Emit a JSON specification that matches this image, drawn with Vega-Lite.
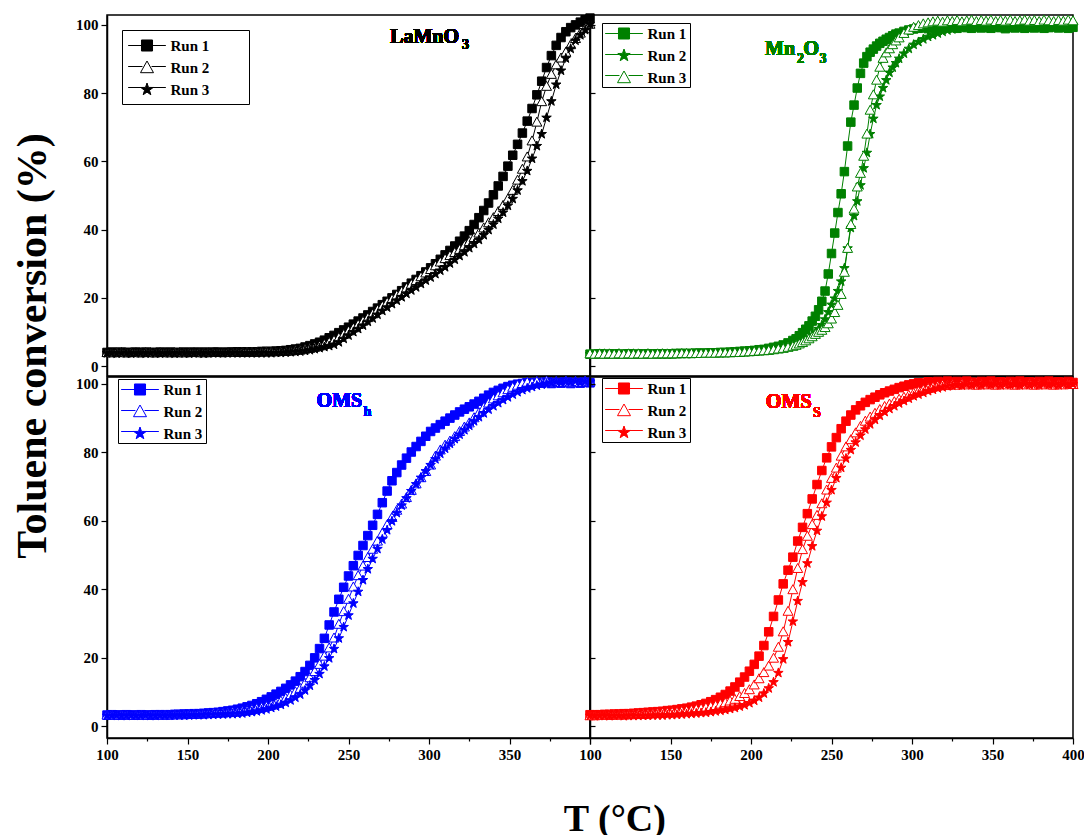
{
  "$schema": "https://vega.github.io/schema/vega-lite/v6.json",
  "background": "white",
  "padding": {"left": 11, "top": 11, "right": 2, "bottom": 2},
  "title": {"text": "Toluene conversion (%)", "orient": "left", "anchor": "middle", "font": "Liberation Serif", "fontSize": 42, "fontWeight": "bold", "color": "black", "offset": 20, "dx": 79},
  "spacing": -4,
  "resolve": {"scale": {"x": "independent", "y": "independent", "shape": "independent", "fill": "independent", "stroke": "independent"}, "legend": {"shape": "independent", "fill": "independent", "stroke": "independent"}},
  "config": {
    "view": {"stroke": "black", "strokeWidth": 1.5},
    "axis": {"grid": false, "domainColor": "black", "domainWidth": 1.5, "tickColor": "black", "tickWidth": 1.2, "labelFont": "Liberation Serif", "labelFontWeight": "bold", "labelFontSize": 15, "labelColor": "black"},
    "legend": {"strokeColor": "black", "strokeWidth": 1, "fillColor": "transparent", "labelFont": "Liberation Serif", "labelFontWeight": "bold", "labelFontSize": 15, "labelColor": "black", "symbolStrokeWidth": 1, "symbolSize": 169, "rowPadding": 5, "labelLimit": 300},
    "text": {"font": "Liberation Serif", "fontWeight": "bold"}
  },
  "datasets": {
    "la": [
      {"r":1,"t":100,"v":4.0},{"r":1,"t":103,"v":4.1},{"r":1,"t":106,"v":4.0},{"r":1,"t":109,"v":4.1},{"r":1,"t":112,"v":4.0},{"r":1,"t":115,"v":4.0},{"r":1,"t":118,"v":4.1},{"r":1,"t":121,"v":4.0},{"r":1,"t":124,"v":4.1},{"r":1,"t":127,"v":4.0},{"r":1,"t":130,"v":4.0},{"r":1,"t":133,"v":4.1},{"r":1,"t":136,"v":4.0},{"r":1,"t":139,"v":4.1},{"r":1,"t":142,"v":4.0},{"r":1,"t":145,"v":4.0},{"r":1,"t":148,"v":4.1},{"r":1,"t":151,"v":4.0},{"r":1,"t":154,"v":4.1},{"r":1,"t":157,"v":4.0},{"r":1,"t":160,"v":4.1},{"r":1,"t":163,"v":4.0},{"r":1,"t":166,"v":4.1},{"r":1,"t":169,"v":4.1},{"r":1,"t":172,"v":4.0},{"r":1,"t":175,"v":4.1},{"r":1,"t":178,"v":4.1},{"r":1,"t":181,"v":4.2},{"r":1,"t":184,"v":4.1},{"r":1,"t":187,"v":4.2},{"r":1,"t":190,"v":4.2},{"r":1,"t":193,"v":4.2},{"r":1,"t":196,"v":4.3},{"r":1,"t":199,"v":4.3},{"r":1,"t":202,"v":4.3},{"r":1,"t":205,"v":4.4},{"r":1,"t":208,"v":4.5},{"r":1,"t":211,"v":4.6},{"r":1,"t":214,"v":4.8},{"r":1,"t":217,"v":5.0},{"r":1,"t":220,"v":5.2},{"r":1,"t":223,"v":5.6},{"r":1,"t":226,"v":6.0},{"r":1,"t":229,"v":6.5},{"r":1,"t":232,"v":7.0},{"r":1,"t":235,"v":7.6},{"r":1,"t":238,"v":8.3},{"r":1,"t":241,"v":9.0},{"r":1,"t":244,"v":9.8},{"r":1,"t":247,"v":10.6},{"r":1,"t":250,"v":11.4},{"r":1,"t":253,"v":12.3},{"r":1,"t":256,"v":13.2},{"r":1,"t":259,"v":14.1},{"r":1,"t":262,"v":15.0},{"r":1,"t":265,"v":16.0},{"r":1,"t":268,"v":17.0},{"r":1,"t":271,"v":18.0},{"r":1,"t":274,"v":19.0},{"r":1,"t":277,"v":20.0},{"r":1,"t":280,"v":21.0},{"r":1,"t":283,"v":22.1},{"r":1,"t":286,"v":23.2},{"r":1,"t":289,"v":24.3},{"r":1,"t":292,"v":25.4},{"r":1,"t":295,"v":26.5},{"r":1,"t":298,"v":27.6},{"r":1,"t":301,"v":28.8},{"r":1,"t":304,"v":30.0},{"r":1,"t":307,"v":31.3},{"r":1,"t":310,"v":32.6},{"r":1,"t":313,"v":33.9},{"r":1,"t":316,"v":35.2},{"r":1,"t":319,"v":36.6},{"r":1,"t":322,"v":38.1},{"r":1,"t":325,"v":39.7},{"r":1,"t":328,"v":41.5},{"r":1,"t":331,"v":43.5},{"r":1,"t":334,"v":45.6},{"r":1,"t":337,"v":47.8},{"r":1,"t":340,"v":50.2},{"r":1,"t":343,"v":52.8},{"r":1,"t":346,"v":55.6},{"r":1,"t":349,"v":58.6},{"r":1,"t":352,"v":61.8},{"r":1,"t":355,"v":65.0},{"r":1,"t":358,"v":68.3},{"r":1,"t":361,"v":71.8},{"r":1,"t":364,"v":75.5},{"r":1,"t":367,"v":79.5},{"r":1,"t":370,"v":83.5},{"r":1,"t":373,"v":87.5},{"r":1,"t":376,"v":91.0},{"r":1,"t":379,"v":94.0},{"r":1,"t":382,"v":96.3},{"r":1,"t":385,"v":98.0},{"r":1,"t":388,"v":99.2},{"r":1,"t":391,"v":100.0},{"r":1,"t":394,"v":100.8},{"r":1,"t":397,"v":101.5},{"r":1,"t":400,"v":102.0},
      {"r":2,"t":100,"v":4.0},{"r":2,"t":103,"v":3.9},{"r":2,"t":106,"v":4.0},{"r":2,"t":109,"v":4.0},{"r":2,"t":112,"v":3.9},{"r":2,"t":115,"v":4.0},{"r":2,"t":118,"v":4.0},{"r":2,"t":121,"v":3.9},{"r":2,"t":124,"v":4.0},{"r":2,"t":127,"v":4.0},{"r":2,"t":130,"v":3.9},{"r":2,"t":133,"v":4.0},{"r":2,"t":136,"v":4.0},{"r":2,"t":139,"v":3.9},{"r":2,"t":142,"v":4.0},{"r":2,"t":145,"v":4.0},{"r":2,"t":148,"v":3.9},{"r":2,"t":151,"v":4.0},{"r":2,"t":154,"v":4.0},{"r":2,"t":157,"v":4.0},{"r":2,"t":160,"v":3.9},{"r":2,"t":163,"v":4.0},{"r":2,"t":166,"v":4.0},{"r":2,"t":169,"v":4.0},{"r":2,"t":172,"v":4.0},{"r":2,"t":175,"v":4.0},{"r":2,"t":178,"v":4.0},{"r":2,"t":181,"v":4.0},{"r":2,"t":184,"v":4.1},{"r":2,"t":187,"v":4.1},{"r":2,"t":190,"v":4.1},{"r":2,"t":193,"v":4.1},{"r":2,"t":196,"v":4.1},{"r":2,"t":199,"v":4.2},{"r":2,"t":202,"v":4.2},{"r":2,"t":205,"v":4.2},{"r":2,"t":208,"v":4.3},{"r":2,"t":211,"v":4.3},{"r":2,"t":214,"v":4.4},{"r":2,"t":217,"v":4.6},{"r":2,"t":220,"v":4.7},{"r":2,"t":223,"v":5.0},{"r":2,"t":226,"v":5.2},{"r":2,"t":229,"v":5.5},{"r":2,"t":232,"v":5.9},{"r":2,"t":235,"v":6.4},{"r":2,"t":238,"v":7.0},{"r":2,"t":241,"v":7.6},{"r":2,"t":244,"v":8.4},{"r":2,"t":247,"v":9.3},{"r":2,"t":250,"v":10.3},{"r":2,"t":253,"v":11.2},{"r":2,"t":256,"v":12.2},{"r":2,"t":259,"v":13.2},{"r":2,"t":262,"v":14.2},{"r":2,"t":265,"v":15.3},{"r":2,"t":268,"v":16.5},{"r":2,"t":271,"v":17.6},{"r":2,"t":274,"v":18.7},{"r":2,"t":277,"v":19.7},{"r":2,"t":280,"v":20.8},{"r":2,"t":283,"v":21.9},{"r":2,"t":286,"v":22.9},{"r":2,"t":289,"v":24.0},{"r":2,"t":292,"v":25.1},{"r":2,"t":295,"v":26.2},{"r":2,"t":298,"v":27.3},{"r":2,"t":301,"v":28.3},{"r":2,"t":304,"v":29.4},{"r":2,"t":307,"v":30.5},{"r":2,"t":310,"v":31.5},{"r":2,"t":313,"v":32.4},{"r":2,"t":316,"v":33.3},{"r":2,"t":319,"v":34.2},{"r":2,"t":322,"v":35.3},{"r":2,"t":325,"v":36.5},{"r":2,"t":328,"v":37.7},{"r":2,"t":331,"v":39.0},{"r":2,"t":334,"v":40.5},{"r":2,"t":337,"v":42.0},{"r":2,"t":340,"v":43.5},{"r":2,"t":343,"v":45.3},{"r":2,"t":346,"v":47.1},{"r":2,"t":349,"v":49.0},{"r":2,"t":352,"v":51.5},{"r":2,"t":355,"v":54.5},{"r":2,"t":358,"v":57.7},{"r":2,"t":361,"v":61.3},{"r":2,"t":364,"v":66.0},{"r":2,"t":367,"v":71.5},{"r":2,"t":370,"v":77.5},{"r":2,"t":373,"v":82.0},{"r":2,"t":376,"v":85.5},{"r":2,"t":379,"v":88.3},{"r":2,"t":382,"v":90.3},{"r":2,"t":385,"v":92.0},{"r":2,"t":388,"v":94.2},{"r":2,"t":391,"v":96.0},{"r":2,"t":394,"v":97.6},{"r":2,"t":397,"v":99.0},{"r":2,"t":400,"v":100.2},
      {"r":3,"t":100,"v":3.8},{"r":3,"t":103,"v":3.8},{"r":3,"t":106,"v":3.7},{"r":3,"t":109,"v":3.8},{"r":3,"t":112,"v":3.8},{"r":3,"t":115,"v":3.7},{"r":3,"t":118,"v":3.8},{"r":3,"t":121,"v":3.8},{"r":3,"t":124,"v":3.7},{"r":3,"t":127,"v":3.8},{"r":3,"t":130,"v":3.8},{"r":3,"t":133,"v":3.7},{"r":3,"t":136,"v":3.8},{"r":3,"t":139,"v":3.8},{"r":3,"t":142,"v":3.7},{"r":3,"t":145,"v":3.8},{"r":3,"t":148,"v":3.8},{"r":3,"t":151,"v":3.7},{"r":3,"t":154,"v":3.8},{"r":3,"t":157,"v":3.8},{"r":3,"t":160,"v":3.7},{"r":3,"t":163,"v":3.8},{"r":3,"t":166,"v":3.8},{"r":3,"t":169,"v":3.8},{"r":3,"t":172,"v":3.8},{"r":3,"t":175,"v":3.8},{"r":3,"t":178,"v":3.8},{"r":3,"t":181,"v":3.8},{"r":3,"t":184,"v":3.8},{"r":3,"t":187,"v":3.8},{"r":3,"t":190,"v":3.8},{"r":3,"t":193,"v":3.8},{"r":3,"t":196,"v":3.8},{"r":3,"t":199,"v":3.8},{"r":3,"t":202,"v":3.8},{"r":3,"t":205,"v":3.9},{"r":3,"t":208,"v":3.9},{"r":3,"t":211,"v":4.0},{"r":3,"t":214,"v":4.1},{"r":3,"t":217,"v":4.2},{"r":3,"t":220,"v":4.3},{"r":3,"t":223,"v":4.5},{"r":3,"t":226,"v":4.7},{"r":3,"t":229,"v":5.0},{"r":3,"t":232,"v":5.3},{"r":3,"t":235,"v":5.6},{"r":3,"t":238,"v":5.9},{"r":3,"t":241,"v":6.3},{"r":3,"t":244,"v":7.0},{"r":3,"t":247,"v":8.0},{"r":3,"t":250,"v":9.0},{"r":3,"t":253,"v":10.0},{"r":3,"t":256,"v":10.9},{"r":3,"t":259,"v":11.9},{"r":3,"t":262,"v":13.0},{"r":3,"t":265,"v":14.0},{"r":3,"t":268,"v":15.1},{"r":3,"t":271,"v":16.2},{"r":3,"t":274,"v":17.2},{"r":3,"t":277,"v":18.2},{"r":3,"t":280,"v":19.2},{"r":3,"t":283,"v":20.2},{"r":3,"t":286,"v":21.2},{"r":3,"t":289,"v":22.2},{"r":3,"t":292,"v":23.1},{"r":3,"t":295,"v":24.1},{"r":3,"t":298,"v":25.1},{"r":3,"t":301,"v":26.0},{"r":3,"t":304,"v":27.0},{"r":3,"t":307,"v":28.0},{"r":3,"t":310,"v":29.0},{"r":3,"t":313,"v":30.1},{"r":3,"t":316,"v":31.2},{"r":3,"t":319,"v":32.3},{"r":3,"t":322,"v":33.4},{"r":3,"t":325,"v":34.6},{"r":3,"t":328,"v":35.8},{"r":3,"t":331,"v":37.0},{"r":3,"t":334,"v":38.4},{"r":3,"t":337,"v":39.9},{"r":3,"t":340,"v":41.5},{"r":3,"t":343,"v":43.2},{"r":3,"t":346,"v":45.0},{"r":3,"t":349,"v":47.0},{"r":3,"t":352,"v":49.0},{"r":3,"t":355,"v":51.5},{"r":3,"t":358,"v":54.2},{"r":3,"t":361,"v":57.2},{"r":3,"t":364,"v":60.8},{"r":3,"t":367,"v":64.5},{"r":3,"t":370,"v":68.0},{"r":3,"t":373,"v":72.8},{"r":3,"t":376,"v":77.6},{"r":3,"t":379,"v":82.5},{"r":3,"t":382,"v":86.6},{"r":3,"t":385,"v":90.2},{"r":3,"t":388,"v":93.0},{"r":3,"t":391,"v":95.4},{"r":3,"t":394,"v":97.0},{"r":3,"t":397,"v":98.5},{"r":3,"t":400,"v":100.2}
    ],
    "mn": [
      {"r":1,"t":100,"v":3.5},{"r":1,"t":103,"v":3.5},{"r":1,"t":106,"v":3.6},{"r":1,"t":109,"v":3.5},{"r":1,"t":112,"v":3.5},{"r":1,"t":115,"v":3.6},{"r":1,"t":118,"v":3.5},{"r":1,"t":121,"v":3.5},{"r":1,"t":124,"v":3.6},{"r":1,"t":127,"v":3.5},{"r":1,"t":130,"v":3.5},{"r":1,"t":133,"v":3.6},{"r":1,"t":136,"v":3.5},{"r":1,"t":139,"v":3.6},{"r":1,"t":142,"v":3.6},{"r":1,"t":145,"v":3.6},{"r":1,"t":148,"v":3.6},{"r":1,"t":151,"v":3.6},{"r":1,"t":154,"v":3.7},{"r":1,"t":157,"v":3.7},{"r":1,"t":160,"v":3.7},{"r":1,"t":163,"v":3.7},{"r":1,"t":166,"v":3.8},{"r":1,"t":169,"v":3.8},{"r":1,"t":172,"v":3.8},{"r":1,"t":175,"v":3.9},{"r":1,"t":178,"v":3.9},{"r":1,"t":181,"v":4.0},{"r":1,"t":184,"v":4.0},{"r":1,"t":187,"v":4.1},{"r":1,"t":190,"v":4.2},{"r":1,"t":193,"v":4.3},{"r":1,"t":196,"v":4.4},{"r":1,"t":199,"v":4.5},{"r":1,"t":202,"v":4.6},{"r":1,"t":205,"v":4.8},{"r":1,"t":208,"v":4.9},{"r":1,"t":211,"v":5.2},{"r":1,"t":214,"v":5.5},{"r":1,"t":217,"v":5.8},{"r":1,"t":220,"v":6.2},{"r":1,"t":223,"v":6.8},{"r":1,"t":226,"v":7.5},{"r":1,"t":228,"v":8.0},{"r":1,"t":230,"v":8.9},{"r":1,"t":232,"v":9.8},{"r":1,"t":234,"v":10.8},{"r":1,"t":236,"v":11.8},{"r":1,"t":238,"v":13.2},{"r":1,"t":240,"v":14.6},{"r":1,"t":242,"v":16.5},{"r":1,"t":244,"v":19.0},{"r":1,"t":246,"v":22.0},{"r":1,"t":248,"v":27.0},{"r":1,"t":250,"v":33.0},{"r":1,"t":252,"v":39.0},{"r":1,"t":254,"v":45.0},{"r":1,"t":256,"v":50.5},{"r":1,"t":258,"v":57.0},{"r":1,"t":260,"v":64.5},{"r":1,"t":262,"v":71.5},{"r":1,"t":264,"v":76.5},{"r":1,"t":266,"v":81.5},{"r":1,"t":268,"v":85.8},{"r":1,"t":270,"v":88.8},{"r":1,"t":272,"v":90.7},{"r":1,"t":274,"v":92.0},{"r":1,"t":276,"v":92.9},{"r":1,"t":278,"v":93.8},{"r":1,"t":280,"v":94.6},{"r":1,"t":282,"v":95.2},{"r":1,"t":284,"v":95.8},{"r":1,"t":286,"v":96.3},{"r":1,"t":288,"v":96.8},{"r":1,"t":290,"v":97.3},{"r":1,"t":292,"v":97.6},{"r":1,"t":295,"v":98.1},{"r":1,"t":298,"v":98.5},{"r":1,"t":301,"v":98.8},{"r":1,"t":304,"v":99.0},{"r":1,"t":307,"v":99.2},{"r":1,"t":310,"v":98.9},{"r":1,"t":313,"v":99.3},{"r":1,"t":316,"v":99.0},{"r":1,"t":319,"v":99.4},{"r":1,"t":322,"v":99.1},{"r":1,"t":325,"v":99.3},{"r":1,"t":328,"v":99.0},{"r":1,"t":331,"v":99.5},{"r":1,"t":334,"v":99.2},{"r":1,"t":337,"v":99.0},{"r":1,"t":340,"v":99.4},{"r":1,"t":343,"v":99.1},{"r":1,"t":346,"v":99.3},{"r":1,"t":349,"v":99.0},{"r":1,"t":352,"v":99.4},{"r":1,"t":355,"v":99.2},{"r":1,"t":358,"v":98.9},{"r":1,"t":361,"v":99.3},{"r":1,"t":364,"v":99.1},{"r":1,"t":367,"v":99.4},{"r":1,"t":370,"v":99.0},{"r":1,"t":373,"v":99.3},{"r":1,"t":376,"v":99.1},{"r":1,"t":379,"v":99.4},{"r":1,"t":382,"v":99.0},{"r":1,"t":385,"v":99.2},{"r":1,"t":388,"v":99.4},{"r":1,"t":391,"v":99.1},{"r":1,"t":394,"v":99.3},{"r":1,"t":397,"v":99.0},{"r":1,"t":400,"v":99.3},
      {"r":2,"t":100,"v":3.5},{"r":2,"t":103,"v":3.5},{"r":2,"t":106,"v":3.5},{"r":2,"t":109,"v":3.6},{"r":2,"t":112,"v":3.5},{"r":2,"t":115,"v":3.5},{"r":2,"t":118,"v":3.6},{"r":2,"t":121,"v":3.5},{"r":2,"t":124,"v":3.5},{"r":2,"t":127,"v":3.6},{"r":2,"t":130,"v":3.5},{"r":2,"t":133,"v":3.5},{"r":2,"t":136,"v":3.6},{"r":2,"t":139,"v":3.5},{"r":2,"t":142,"v":3.5},{"r":2,"t":145,"v":3.6},{"r":2,"t":148,"v":3.5},{"r":2,"t":151,"v":3.6},{"r":2,"t":154,"v":3.6},{"r":2,"t":157,"v":3.6},{"r":2,"t":160,"v":3.6},{"r":2,"t":163,"v":3.6},{"r":2,"t":166,"v":3.7},{"r":2,"t":169,"v":3.7},{"r":2,"t":172,"v":3.7},{"r":2,"t":175,"v":3.7},{"r":2,"t":178,"v":3.8},{"r":2,"t":181,"v":3.8},{"r":2,"t":184,"v":3.8},{"r":2,"t":187,"v":3.9},{"r":2,"t":190,"v":3.9},{"r":2,"t":193,"v":4.0},{"r":2,"t":196,"v":4.1},{"r":2,"t":199,"v":4.2},{"r":2,"t":202,"v":4.3},{"r":2,"t":205,"v":4.4},{"r":2,"t":208,"v":4.5},{"r":2,"t":211,"v":4.7},{"r":2,"t":214,"v":4.9},{"r":2,"t":217,"v":5.1},{"r":2,"t":220,"v":5.3},{"r":2,"t":223,"v":5.6},{"r":2,"t":226,"v":6.0},{"r":2,"t":228,"v":6.3},{"r":2,"t":230,"v":6.7},{"r":2,"t":232,"v":7.1},{"r":2,"t":234,"v":7.6},{"r":2,"t":236,"v":8.2},{"r":2,"t":238,"v":9.0},{"r":2,"t":240,"v":9.9},{"r":2,"t":242,"v":10.9},{"r":2,"t":244,"v":12.0},{"r":2,"t":246,"v":13.7},{"r":2,"t":248,"v":15.8},{"r":2,"t":250,"v":18.0},{"r":2,"t":252,"v":19.8},{"r":2,"t":254,"v":22.0},{"r":2,"t":256,"v":24.8},{"r":2,"t":258,"v":28.7},{"r":2,"t":260,"v":34.5},{"r":2,"t":262,"v":40.5},{"r":2,"t":264,"v":44.0},{"r":2,"t":266,"v":48.3},{"r":2,"t":268,"v":53.0},{"r":2,"t":270,"v":58.0},{"r":2,"t":272,"v":62.5},{"r":2,"t":274,"v":68.0},{"r":2,"t":276,"v":72.5},{"r":2,"t":278,"v":76.5},{"r":2,"t":280,"v":79.0},{"r":2,"t":282,"v":81.5},{"r":2,"t":284,"v":83.8},{"r":2,"t":286,"v":86.0},{"r":2,"t":288,"v":87.5},{"r":2,"t":290,"v":88.8},{"r":2,"t":292,"v":90.1},{"r":2,"t":295,"v":91.6},{"r":2,"t":298,"v":93.0},{"r":2,"t":301,"v":94.2},{"r":2,"t":304,"v":95.0},{"r":2,"t":307,"v":95.8},{"r":2,"t":310,"v":96.5},{"r":2,"t":313,"v":97.0},{"r":2,"t":316,"v":97.5},{"r":2,"t":319,"v":98.0},{"r":2,"t":322,"v":98.4},{"r":2,"t":325,"v":98.7},{"r":2,"t":328,"v":99.0},{"r":2,"t":331,"v":99.2},{"r":2,"t":334,"v":99.4},{"r":2,"t":337,"v":99.6},{"r":2,"t":340,"v":99.5},{"r":2,"t":343,"v":99.8},{"r":2,"t":346,"v":99.5},{"r":2,"t":349,"v":99.7},{"r":2,"t":352,"v":99.9},{"r":2,"t":355,"v":99.6},{"r":2,"t":358,"v":99.8},{"r":2,"t":361,"v":100.0},{"r":2,"t":364,"v":99.6},{"r":2,"t":367,"v":99.9},{"r":2,"t":370,"v":99.7},{"r":2,"t":373,"v":100.1},{"r":2,"t":376,"v":99.7},{"r":2,"t":379,"v":99.9},{"r":2,"t":382,"v":100.1},{"r":2,"t":385,"v":99.8},{"r":2,"t":388,"v":100.0},{"r":2,"t":391,"v":99.7},{"r":2,"t":394,"v":100.1},{"r":2,"t":397,"v":99.8},{"r":2,"t":400,"v":100.0},
      {"r":3,"t":100,"v":3.6},{"r":3,"t":103,"v":3.5},{"r":3,"t":106,"v":3.6},{"r":3,"t":109,"v":3.5},{"r":3,"t":112,"v":3.6},{"r":3,"t":115,"v":3.5},{"r":3,"t":118,"v":3.6},{"r":3,"t":121,"v":3.5},{"r":3,"t":124,"v":3.6},{"r":3,"t":127,"v":3.5},{"r":3,"t":130,"v":3.6},{"r":3,"t":133,"v":3.5},{"r":3,"t":136,"v":3.6},{"r":3,"t":139,"v":3.5},{"r":3,"t":142,"v":3.6},{"r":3,"t":145,"v":3.6},{"r":3,"t":148,"v":3.6},{"r":3,"t":151,"v":3.6},{"r":3,"t":154,"v":3.6},{"r":3,"t":157,"v":3.7},{"r":3,"t":160,"v":3.7},{"r":3,"t":163,"v":3.7},{"r":3,"t":166,"v":3.7},{"r":3,"t":169,"v":3.7},{"r":3,"t":172,"v":3.8},{"r":3,"t":175,"v":3.8},{"r":3,"t":178,"v":3.8},{"r":3,"t":181,"v":3.9},{"r":3,"t":184,"v":3.9},{"r":3,"t":187,"v":3.9},{"r":3,"t":190,"v":4.0},{"r":3,"t":193,"v":4.0},{"r":3,"t":196,"v":4.1},{"r":3,"t":199,"v":4.2},{"r":3,"t":202,"v":4.3},{"r":3,"t":205,"v":4.4},{"r":3,"t":208,"v":4.5},{"r":3,"t":211,"v":4.6},{"r":3,"t":214,"v":4.8},{"r":3,"t":217,"v":5.0},{"r":3,"t":220,"v":5.2},{"r":3,"t":223,"v":5.5},{"r":3,"t":226,"v":5.8},{"r":3,"t":228,"v":6.1},{"r":3,"t":230,"v":6.5},{"r":3,"t":232,"v":6.9},{"r":3,"t":234,"v":7.4},{"r":3,"t":236,"v":8.0},{"r":3,"t":238,"v":8.6},{"r":3,"t":240,"v":9.3},{"r":3,"t":242,"v":9.9},{"r":3,"t":244,"v":10.5},{"r":3,"t":246,"v":11.3},{"r":3,"t":248,"v":12.4},{"r":3,"t":250,"v":13.8},{"r":3,"t":252,"v":15.7},{"r":3,"t":254,"v":17.8},{"r":3,"t":256,"v":21.0},{"r":3,"t":258,"v":27.5},{"r":3,"t":260,"v":34.5},{"r":3,"t":262,"v":41.5},{"r":3,"t":264,"v":46.0},{"r":3,"t":266,"v":52.5},{"r":3,"t":268,"v":56.5},{"r":3,"t":270,"v":61.5},{"r":3,"t":272,"v":68.0},{"r":3,"t":274,"v":75.0},{"r":3,"t":276,"v":79.5},{"r":3,"t":278,"v":83.8},{"r":3,"t":280,"v":87.6},{"r":3,"t":282,"v":90.2},{"r":3,"t":284,"v":91.8},{"r":3,"t":286,"v":93.0},{"r":3,"t":288,"v":94.2},{"r":3,"t":290,"v":95.3},{"r":3,"t":292,"v":96.2},{"r":3,"t":295,"v":97.5},{"r":3,"t":298,"v":98.5},{"r":3,"t":301,"v":99.3},{"r":3,"t":304,"v":99.8},{"r":3,"t":307,"v":100.3},{"r":3,"t":310,"v":100.6},{"r":3,"t":313,"v":100.9},{"r":3,"t":316,"v":101.1},{"r":3,"t":319,"v":100.8},{"r":3,"t":322,"v":101.2},{"r":3,"t":325,"v":101.0},{"r":3,"t":328,"v":101.3},{"r":3,"t":331,"v":100.9},{"r":3,"t":334,"v":101.2},{"r":3,"t":337,"v":101.4},{"r":3,"t":340,"v":101.0},{"r":3,"t":343,"v":101.3},{"r":3,"t":346,"v":101.1},{"r":3,"t":349,"v":101.4},{"r":3,"t":352,"v":101.0},{"r":3,"t":355,"v":101.3},{"r":3,"t":358,"v":101.1},{"r":3,"t":361,"v":101.4},{"r":3,"t":364,"v":101.0},{"r":3,"t":367,"v":101.2},{"r":3,"t":370,"v":101.4},{"r":3,"t":373,"v":101.1},{"r":3,"t":376,"v":101.3},{"r":3,"t":379,"v":101.0},{"r":3,"t":382,"v":101.4},{"r":3,"t":385,"v":101.2},{"r":3,"t":388,"v":101.0},{"r":3,"t":391,"v":101.3},{"r":3,"t":394,"v":101.1},{"r":3,"t":397,"v":101.4},{"r":3,"t":400,"v":101.2}
    ],
    "oh": [
      {"r":1,"t":100,"v":3.2},{"r":1,"t":103,"v":3.3},{"r":1,"t":106,"v":3.2},{"r":1,"t":109,"v":3.2},{"r":1,"t":112,"v":3.3},{"r":1,"t":115,"v":3.2},{"r":1,"t":118,"v":3.2},{"r":1,"t":121,"v":3.3},{"r":1,"t":124,"v":3.2},{"r":1,"t":127,"v":3.2},{"r":1,"t":130,"v":3.3},{"r":1,"t":133,"v":3.3},{"r":1,"t":136,"v":3.3},{"r":1,"t":139,"v":3.3},{"r":1,"t":142,"v":3.4},{"r":1,"t":145,"v":3.4},{"r":1,"t":148,"v":3.5},{"r":1,"t":151,"v":3.5},{"r":1,"t":154,"v":3.6},{"r":1,"t":157,"v":3.6},{"r":1,"t":160,"v":3.7},{"r":1,"t":163,"v":3.8},{"r":1,"t":166,"v":3.9},{"r":1,"t":169,"v":4.0},{"r":1,"t":172,"v":4.2},{"r":1,"t":175,"v":4.4},{"r":1,"t":178,"v":4.6},{"r":1,"t":181,"v":4.9},{"r":1,"t":184,"v":5.2},{"r":1,"t":187,"v":5.6},{"r":1,"t":190,"v":6.0},{"r":1,"t":193,"v":6.5},{"r":1,"t":196,"v":7.1},{"r":1,"t":199,"v":7.8},{"r":1,"t":202,"v":8.5},{"r":1,"t":205,"v":9.3},{"r":1,"t":208,"v":10.1},{"r":1,"t":211,"v":11.0},{"r":1,"t":214,"v":12.0},{"r":1,"t":217,"v":13.1},{"r":1,"t":220,"v":14.4},{"r":1,"t":223,"v":15.9},{"r":1,"t":226,"v":17.7},{"r":1,"t":229,"v":19.9},{"r":1,"t":232,"v":22.6},{"r":1,"t":235,"v":25.6},{"r":1,"t":238,"v":29.5},{"r":1,"t":241,"v":33.3},{"r":1,"t":244,"v":37.0},{"r":1,"t":247,"v":40.5},{"r":1,"t":250,"v":43.8},{"r":1,"t":253,"v":46.8},{"r":1,"t":256,"v":49.8},{"r":1,"t":259,"v":52.7},{"r":1,"t":262,"v":55.6},{"r":1,"t":265,"v":58.6},{"r":1,"t":268,"v":61.8},{"r":1,"t":271,"v":65.2},{"r":1,"t":274,"v":68.6},{"r":1,"t":277,"v":71.6},{"r":1,"t":280,"v":74.0},{"r":1,"t":283,"v":76.2},{"r":1,"t":286,"v":78.2},{"r":1,"t":289,"v":80.0},{"r":1,"t":292,"v":81.6},{"r":1,"t":295,"v":83.1},{"r":1,"t":298,"v":84.6},{"r":1,"t":301,"v":86.0},{"r":1,"t":304,"v":87.0},{"r":1,"t":307,"v":88.0},{"r":1,"t":310,"v":89.0},{"r":1,"t":313,"v":89.9},{"r":1,"t":316,"v":90.8},{"r":1,"t":319,"v":91.7},{"r":1,"t":322,"v":92.5},{"r":1,"t":325,"v":93.2},{"r":1,"t":328,"v":94.0},{"r":1,"t":331,"v":94.8},{"r":1,"t":334,"v":95.7},{"r":1,"t":337,"v":96.6},{"r":1,"t":340,"v":97.4},{"r":1,"t":343,"v":98.0},{"r":1,"t":346,"v":98.6},{"r":1,"t":349,"v":99.1},{"r":1,"t":352,"v":99.5},{"r":1,"t":355,"v":99.8},{"r":1,"t":358,"v":100.0},{"r":1,"t":361,"v":100.2},{"r":1,"t":364,"v":100.0},{"r":1,"t":367,"v":100.3},{"r":1,"t":370,"v":100.1},{"r":1,"t":373,"v":100.4},{"r":1,"t":376,"v":100.0},{"r":1,"t":379,"v":100.3},{"r":1,"t":382,"v":100.1},{"r":1,"t":385,"v":100.4},{"r":1,"t":388,"v":100.0},{"r":1,"t":391,"v":100.3},{"r":1,"t":394,"v":100.1},{"r":1,"t":397,"v":100.4},{"r":1,"t":400,"v":100.2},
      {"r":2,"t":100,"v":3.2},{"r":2,"t":103,"v":3.2},{"r":2,"t":106,"v":3.1},{"r":2,"t":109,"v":3.2},{"r":2,"t":112,"v":3.2},{"r":2,"t":115,"v":3.1},{"r":2,"t":118,"v":3.2},{"r":2,"t":121,"v":3.2},{"r":2,"t":124,"v":3.1},{"r":2,"t":127,"v":3.2},{"r":2,"t":130,"v":3.2},{"r":2,"t":133,"v":3.2},{"r":2,"t":136,"v":3.2},{"r":2,"t":139,"v":3.2},{"r":2,"t":142,"v":3.3},{"r":2,"t":145,"v":3.3},{"r":2,"t":148,"v":3.3},{"r":2,"t":151,"v":3.4},{"r":2,"t":154,"v":3.4},{"r":2,"t":157,"v":3.5},{"r":2,"t":160,"v":3.5},{"r":2,"t":163,"v":3.6},{"r":2,"t":166,"v":3.7},{"r":2,"t":169,"v":3.8},{"r":2,"t":172,"v":3.8},{"r":2,"t":175,"v":3.9},{"r":2,"t":178,"v":4.0},{"r":2,"t":181,"v":4.1},{"r":2,"t":184,"v":4.3},{"r":2,"t":187,"v":4.5},{"r":2,"t":190,"v":4.8},{"r":2,"t":193,"v":5.1},{"r":2,"t":196,"v":5.4},{"r":2,"t":199,"v":5.7},{"r":2,"t":202,"v":6.1},{"r":2,"t":205,"v":6.6},{"r":2,"t":208,"v":7.3},{"r":2,"t":211,"v":8.1},{"r":2,"t":214,"v":9.0},{"r":2,"t":217,"v":10.0},{"r":2,"t":220,"v":11.0},{"r":2,"t":223,"v":12.5},{"r":2,"t":226,"v":14.1},{"r":2,"t":229,"v":15.9},{"r":2,"t":232,"v":18.0},{"r":2,"t":235,"v":20.4},{"r":2,"t":238,"v":22.8},{"r":2,"t":241,"v":25.7},{"r":2,"t":244,"v":29.7},{"r":2,"t":247,"v":33.4},{"r":2,"t":250,"v":37.0},{"r":2,"t":253,"v":40.6},{"r":2,"t":256,"v":43.9},{"r":2,"t":259,"v":46.7},{"r":2,"t":262,"v":49.2},{"r":2,"t":265,"v":51.6},{"r":2,"t":268,"v":54.0},{"r":2,"t":271,"v":56.3},{"r":2,"t":274,"v":58.7},{"r":2,"t":277,"v":60.9},{"r":2,"t":280,"v":63.0},{"r":2,"t":283,"v":64.8},{"r":2,"t":286,"v":66.7},{"r":2,"t":289,"v":68.8},{"r":2,"t":292,"v":70.7},{"r":2,"t":295,"v":72.5},{"r":2,"t":298,"v":74.3},{"r":2,"t":301,"v":76.2},{"r":2,"t":304,"v":78.8},{"r":2,"t":307,"v":80.6},{"r":2,"t":310,"v":82.0},{"r":2,"t":313,"v":83.2},{"r":2,"t":316,"v":84.5},{"r":2,"t":319,"v":86.0},{"r":2,"t":322,"v":87.3},{"r":2,"t":325,"v":88.5},{"r":2,"t":328,"v":90.0},{"r":2,"t":331,"v":91.5},{"r":2,"t":334,"v":93.0},{"r":2,"t":337,"v":94.3},{"r":2,"t":340,"v":95.5},{"r":2,"t":343,"v":96.4},{"r":2,"t":346,"v":97.3},{"r":2,"t":349,"v":98.2},{"r":2,"t":352,"v":98.9},{"r":2,"t":355,"v":99.5},{"r":2,"t":358,"v":100.0},{"r":2,"t":361,"v":100.4},{"r":2,"t":364,"v":100.2},{"r":2,"t":367,"v":100.6},{"r":2,"t":370,"v":100.3},{"r":2,"t":373,"v":100.7},{"r":2,"t":376,"v":100.4},{"r":2,"t":379,"v":100.6},{"r":2,"t":382,"v":100.3},{"r":2,"t":385,"v":100.7},{"r":2,"t":388,"v":100.4},{"r":2,"t":391,"v":100.6},{"r":2,"t":394,"v":100.3},{"r":2,"t":397,"v":100.7},{"r":2,"t":400,"v":100.5},
      {"r":3,"t":100,"v":3.0},{"r":3,"t":103,"v":3.0},{"r":3,"t":106,"v":3.1},{"r":3,"t":109,"v":3.0},{"r":3,"t":112,"v":3.0},{"r":3,"t":115,"v":3.1},{"r":3,"t":118,"v":3.0},{"r":3,"t":121,"v":3.0},{"r":3,"t":124,"v":3.1},{"r":3,"t":127,"v":3.0},{"r":3,"t":130,"v":3.0},{"r":3,"t":133,"v":3.1},{"r":3,"t":136,"v":3.0},{"r":3,"t":139,"v":3.1},{"r":3,"t":142,"v":3.1},{"r":3,"t":145,"v":3.1},{"r":3,"t":148,"v":3.1},{"r":3,"t":151,"v":3.1},{"r":3,"t":154,"v":3.2},{"r":3,"t":157,"v":3.2},{"r":3,"t":160,"v":3.2},{"r":3,"t":163,"v":3.3},{"r":3,"t":166,"v":3.3},{"r":3,"t":169,"v":3.4},{"r":3,"t":172,"v":3.4},{"r":3,"t":175,"v":3.5},{"r":3,"t":178,"v":3.5},{"r":3,"t":181,"v":3.6},{"r":3,"t":184,"v":3.7},{"r":3,"t":187,"v":3.9},{"r":3,"t":190,"v":4.1},{"r":3,"t":193,"v":4.3},{"r":3,"t":196,"v":4.6},{"r":3,"t":199,"v":4.9},{"r":3,"t":202,"v":5.3},{"r":3,"t":205,"v":5.7},{"r":3,"t":208,"v":6.2},{"r":3,"t":211,"v":6.8},{"r":3,"t":214,"v":7.5},{"r":3,"t":217,"v":8.3},{"r":3,"t":220,"v":9.2},{"r":3,"t":223,"v":10.4},{"r":3,"t":226,"v":11.8},{"r":3,"t":229,"v":13.4},{"r":3,"t":232,"v":15.2},{"r":3,"t":235,"v":17.4},{"r":3,"t":238,"v":19.8},{"r":3,"t":241,"v":22.5},{"r":3,"t":244,"v":25.6},{"r":3,"t":247,"v":28.9},{"r":3,"t":250,"v":32.3},{"r":3,"t":253,"v":35.8},{"r":3,"t":256,"v":39.2},{"r":3,"t":259,"v":42.6},{"r":3,"t":262,"v":45.8},{"r":3,"t":265,"v":48.8},{"r":3,"t":268,"v":51.7},{"r":3,"t":271,"v":54.5},{"r":3,"t":274,"v":57.2},{"r":3,"t":277,"v":59.8},{"r":3,"t":280,"v":62.2},{"r":3,"t":283,"v":64.4},{"r":3,"t":286,"v":66.5},{"r":3,"t":289,"v":68.6},{"r":3,"t":292,"v":70.6},{"r":3,"t":295,"v":72.5},{"r":3,"t":298,"v":74.4},{"r":3,"t":301,"v":76.2},{"r":3,"t":304,"v":77.9},{"r":3,"t":307,"v":79.5},{"r":3,"t":310,"v":81.0},{"r":3,"t":313,"v":82.4},{"r":3,"t":316,"v":83.8},{"r":3,"t":319,"v":85.1},{"r":3,"t":322,"v":86.4},{"r":3,"t":325,"v":87.7},{"r":3,"t":328,"v":89.0},{"r":3,"t":331,"v":90.2},{"r":3,"t":334,"v":91.3},{"r":3,"t":337,"v":92.4},{"r":3,"t":340,"v":93.4},{"r":3,"t":343,"v":94.3},{"r":3,"t":346,"v":95.2},{"r":3,"t":349,"v":96.0},{"r":3,"t":352,"v":96.8},{"r":3,"t":355,"v":97.5},{"r":3,"t":358,"v":98.1},{"r":3,"t":361,"v":98.6},{"r":3,"t":364,"v":99.0},{"r":3,"t":367,"v":99.4},{"r":3,"t":370,"v":99.7},{"r":3,"t":373,"v":100.0},{"r":3,"t":376,"v":100.2},{"r":3,"t":379,"v":100.5},{"r":3,"t":382,"v":100.3},{"r":3,"t":385,"v":100.6},{"r":3,"t":388,"v":100.4},{"r":3,"t":391,"v":100.7},{"r":3,"t":394,"v":100.3},{"r":3,"t":397,"v":100.6},{"r":3,"t":400,"v":100.4}
    ],
    "os": [
      {"r":1,"t":100,"v":3.3},{"r":1,"t":103,"v":3.3},{"r":1,"t":106,"v":3.3},{"r":1,"t":109,"v":3.4},{"r":1,"t":112,"v":3.4},{"r":1,"t":115,"v":3.5},{"r":1,"t":118,"v":3.5},{"r":1,"t":121,"v":3.6},{"r":1,"t":124,"v":3.6},{"r":1,"t":127,"v":3.7},{"r":1,"t":130,"v":3.8},{"r":1,"t":133,"v":3.9},{"r":1,"t":136,"v":4.0},{"r":1,"t":139,"v":4.1},{"r":1,"t":142,"v":4.2},{"r":1,"t":145,"v":4.3},{"r":1,"t":148,"v":4.5},{"r":1,"t":151,"v":4.6},{"r":1,"t":154,"v":4.8},{"r":1,"t":157,"v":5.0},{"r":1,"t":160,"v":5.2},{"r":1,"t":163,"v":5.5},{"r":1,"t":166,"v":5.8},{"r":1,"t":169,"v":6.2},{"r":1,"t":172,"v":6.6},{"r":1,"t":175,"v":7.1},{"r":1,"t":178,"v":7.7},{"r":1,"t":181,"v":8.4},{"r":1,"t":184,"v":9.2},{"r":1,"t":187,"v":10.2},{"r":1,"t":190,"v":11.4},{"r":1,"t":193,"v":12.8},{"r":1,"t":196,"v":14.3},{"r":1,"t":199,"v":16.0},{"r":1,"t":202,"v":18.0},{"r":1,"t":205,"v":20.4},{"r":1,"t":208,"v":23.5},{"r":1,"t":211,"v":27.5},{"r":1,"t":214,"v":32.0},{"r":1,"t":217,"v":36.8},{"r":1,"t":220,"v":41.5},{"r":1,"t":223,"v":45.5},{"r":1,"t":226,"v":49.3},{"r":1,"t":229,"v":54.0},{"r":1,"t":232,"v":58.0},{"r":1,"t":235,"v":62.0},{"r":1,"t":238,"v":66.3},{"r":1,"t":241,"v":70.5},{"r":1,"t":244,"v":74.6},{"r":1,"t":247,"v":78.3},{"r":1,"t":250,"v":81.5},{"r":1,"t":253,"v":84.2},{"r":1,"t":256,"v":86.8},{"r":1,"t":259,"v":89.0},{"r":1,"t":262,"v":90.8},{"r":1,"t":265,"v":92.3},{"r":1,"t":268,"v":93.5},{"r":1,"t":271,"v":94.5},{"r":1,"t":274,"v":95.3},{"r":1,"t":277,"v":96.0},{"r":1,"t":280,"v":96.7},{"r":1,"t":283,"v":97.3},{"r":1,"t":286,"v":97.8},{"r":1,"t":289,"v":98.3},{"r":1,"t":292,"v":98.8},{"r":1,"t":295,"v":99.2},{"r":1,"t":298,"v":99.6},{"r":1,"t":301,"v":99.9},{"r":1,"t":304,"v":100.2},{"r":1,"t":307,"v":100.0},{"r":1,"t":310,"v":100.5},{"r":1,"t":313,"v":100.1},{"r":1,"t":316,"v":100.6},{"r":1,"t":319,"v":100.2},{"r":1,"t":322,"v":100.7},{"r":1,"t":325,"v":100.3},{"r":1,"t":328,"v":100.6},{"r":1,"t":331,"v":100.2},{"r":1,"t":334,"v":100.7},{"r":1,"t":337,"v":100.4},{"r":1,"t":340,"v":100.1},{"r":1,"t":343,"v":100.6},{"r":1,"t":346,"v":100.3},{"r":1,"t":349,"v":100.7},{"r":1,"t":352,"v":100.2},{"r":1,"t":355,"v":100.5},{"r":1,"t":358,"v":100.1},{"r":1,"t":361,"v":100.6},{"r":1,"t":364,"v":100.3},{"r":1,"t":367,"v":100.7},{"r":1,"t":370,"v":100.2},{"r":1,"t":373,"v":100.5},{"r":1,"t":376,"v":100.1},{"r":1,"t":379,"v":100.6},{"r":1,"t":382,"v":100.3},{"r":1,"t":385,"v":100.7},{"r":1,"t":388,"v":100.2},{"r":1,"t":391,"v":100.5},{"r":1,"t":394,"v":100.1},{"r":1,"t":397,"v":100.6},{"r":1,"t":400,"v":100.3},
      {"r":2,"t":100,"v":3.0},{"r":2,"t":103,"v":3.0},{"r":2,"t":106,"v":3.1},{"r":2,"t":109,"v":3.1},{"r":2,"t":112,"v":3.1},{"r":2,"t":115,"v":3.2},{"r":2,"t":118,"v":3.2},{"r":2,"t":121,"v":3.2},{"r":2,"t":124,"v":3.3},{"r":2,"t":127,"v":3.3},{"r":2,"t":130,"v":3.4},{"r":2,"t":133,"v":3.4},{"r":2,"t":136,"v":3.5},{"r":2,"t":139,"v":3.6},{"r":2,"t":142,"v":3.7},{"r":2,"t":145,"v":3.8},{"r":2,"t":148,"v":3.9},{"r":2,"t":151,"v":4.0},{"r":2,"t":154,"v":4.1},{"r":2,"t":157,"v":4.3},{"r":2,"t":160,"v":4.4},{"r":2,"t":163,"v":4.6},{"r":2,"t":166,"v":4.9},{"r":2,"t":169,"v":5.1},{"r":2,"t":172,"v":5.4},{"r":2,"t":175,"v":5.7},{"r":2,"t":178,"v":6.0},{"r":2,"t":181,"v":6.4},{"r":2,"t":184,"v":6.8},{"r":2,"t":187,"v":7.3},{"r":2,"t":190,"v":7.8},{"r":2,"t":193,"v":8.6},{"r":2,"t":196,"v":9.5},{"r":2,"t":199,"v":10.6},{"r":2,"t":202,"v":12.0},{"r":2,"t":205,"v":13.8},{"r":2,"t":208,"v":15.6},{"r":2,"t":211,"v":17.5},{"r":2,"t":214,"v":19.8},{"r":2,"t":217,"v":23.0},{"r":2,"t":220,"v":27.5},{"r":2,"t":223,"v":33.5},{"r":2,"t":226,"v":39.8},{"r":2,"t":229,"v":46.0},{"r":2,"t":232,"v":51.5},{"r":2,"t":235,"v":55.4},{"r":2,"t":238,"v":58.8},{"r":2,"t":241,"v":61.5},{"r":2,"t":244,"v":64.9},{"r":2,"t":247,"v":68.9},{"r":2,"t":250,"v":72.3},{"r":2,"t":253,"v":75.3},{"r":2,"t":256,"v":78.8},{"r":2,"t":259,"v":81.5},{"r":2,"t":262,"v":83.6},{"r":2,"t":265,"v":85.6},{"r":2,"t":268,"v":87.5},{"r":2,"t":271,"v":89.0},{"r":2,"t":274,"v":90.2},{"r":2,"t":277,"v":91.3},{"r":2,"t":280,"v":92.4},{"r":2,"t":283,"v":93.3},{"r":2,"t":286,"v":94.0},{"r":2,"t":289,"v":94.7},{"r":2,"t":292,"v":95.4},{"r":2,"t":295,"v":96.0},{"r":2,"t":298,"v":96.6},{"r":2,"t":301,"v":97.2},{"r":2,"t":304,"v":97.7},{"r":2,"t":307,"v":98.2},{"r":2,"t":310,"v":98.6},{"r":2,"t":313,"v":99.0},{"r":2,"t":316,"v":99.3},{"r":2,"t":319,"v":99.6},{"r":2,"t":322,"v":99.4},{"r":2,"t":325,"v":99.8},{"r":2,"t":328,"v":99.5},{"r":2,"t":331,"v":99.9},{"r":2,"t":334,"v":99.6},{"r":2,"t":337,"v":99.9},{"r":2,"t":340,"v":99.5},{"r":2,"t":343,"v":99.8},{"r":2,"t":346,"v":99.6},{"r":2,"t":349,"v":99.9},{"r":2,"t":352,"v":99.5},{"r":2,"t":355,"v":99.8},{"r":2,"t":358,"v":99.6},{"r":2,"t":361,"v":100.0},{"r":2,"t":364,"v":99.5},{"r":2,"t":367,"v":99.8},{"r":2,"t":370,"v":99.6},{"r":2,"t":373,"v":99.9},{"r":2,"t":376,"v":99.5},{"r":2,"t":379,"v":99.8},{"r":2,"t":382,"v":99.6},{"r":2,"t":385,"v":99.9},{"r":2,"t":388,"v":99.5},{"r":2,"t":391,"v":99.8},{"r":2,"t":394,"v":99.6},{"r":2,"t":397,"v":99.9},{"r":2,"t":400,"v":99.7},
      {"r":3,"t":100,"v":3.0},{"r":3,"t":103,"v":2.9},{"r":3,"t":106,"v":3.0},{"r":3,"t":109,"v":3.0},{"r":3,"t":112,"v":2.9},{"r":3,"t":115,"v":3.0},{"r":3,"t":118,"v":3.0},{"r":3,"t":121,"v":2.9},{"r":3,"t":124,"v":3.0},{"r":3,"t":127,"v":3.0},{"r":3,"t":130,"v":3.0},{"r":3,"t":133,"v":3.0},{"r":3,"t":136,"v":3.0},{"r":3,"t":139,"v":3.1},{"r":3,"t":142,"v":3.1},{"r":3,"t":145,"v":3.1},{"r":3,"t":148,"v":3.2},{"r":3,"t":151,"v":3.2},{"r":3,"t":154,"v":3.3},{"r":3,"t":157,"v":3.4},{"r":3,"t":160,"v":3.5},{"r":3,"t":163,"v":3.6},{"r":3,"t":166,"v":3.7},{"r":3,"t":169,"v":3.8},{"r":3,"t":172,"v":3.9},{"r":3,"t":175,"v":4.1},{"r":3,"t":178,"v":4.3},{"r":3,"t":181,"v":4.5},{"r":3,"t":184,"v":4.7},{"r":3,"t":187,"v":5.0},{"r":3,"t":190,"v":5.3},{"r":3,"t":193,"v":5.7},{"r":3,"t":196,"v":6.1},{"r":3,"t":199,"v":6.7},{"r":3,"t":202,"v":7.4},{"r":3,"t":205,"v":8.3},{"r":3,"t":208,"v":9.5},{"r":3,"t":211,"v":11.0},{"r":3,"t":214,"v":12.8},{"r":3,"t":217,"v":15.5},{"r":3,"t":220,"v":19.5},{"r":3,"t":223,"v":24.5},{"r":3,"t":226,"v":30.5},{"r":3,"t":229,"v":36.5},{"r":3,"t":232,"v":42.0},{"r":3,"t":235,"v":47.5},{"r":3,"t":238,"v":52.5},{"r":3,"t":241,"v":57.0},{"r":3,"t":244,"v":61.2},{"r":3,"t":247,"v":65.2},{"r":3,"t":250,"v":68.9},{"r":3,"t":253,"v":72.4},{"r":3,"t":256,"v":75.4},{"r":3,"t":259,"v":78.1},{"r":3,"t":262,"v":80.6},{"r":3,"t":265,"v":82.8},{"r":3,"t":268,"v":84.8},{"r":3,"t":271,"v":86.6},{"r":3,"t":274,"v":88.1},{"r":3,"t":277,"v":89.4},{"r":3,"t":280,"v":90.6},{"r":3,"t":283,"v":91.7},{"r":3,"t":286,"v":92.6},{"r":3,"t":289,"v":93.4},{"r":3,"t":292,"v":94.2},{"r":3,"t":295,"v":94.9},{"r":3,"t":298,"v":95.6},{"r":3,"t":301,"v":96.3},{"r":3,"t":304,"v":96.8},{"r":3,"t":307,"v":97.3},{"r":3,"t":310,"v":97.8},{"r":3,"t":313,"v":98.2},{"r":3,"t":316,"v":98.6},{"r":3,"t":319,"v":98.9},{"r":3,"t":322,"v":99.2},{"r":3,"t":325,"v":99.4},{"r":3,"t":328,"v":99.6},{"r":3,"t":331,"v":99.4},{"r":3,"t":334,"v":99.8},{"r":3,"t":337,"v":99.5},{"r":3,"t":340,"v":99.8},{"r":3,"t":343,"v":99.5},{"r":3,"t":346,"v":99.9},{"r":3,"t":349,"v":99.6},{"r":3,"t":352,"v":99.8},{"r":3,"t":355,"v":99.5},{"r":3,"t":358,"v":99.9},{"r":3,"t":361,"v":99.6},{"r":3,"t":364,"v":99.8},{"r":3,"t":367,"v":99.5},{"r":3,"t":370,"v":99.9},{"r":3,"t":373,"v":99.6},{"r":3,"t":376,"v":99.8},{"r":3,"t":379,"v":99.5},{"r":3,"t":382,"v":99.9},{"r":3,"t":385,"v":99.6},{"r":3,"t":388,"v":99.8},{"r":3,"t":391,"v":99.5},{"r":3,"t":394,"v":99.9},{"r":3,"t":397,"v":99.6},{"r":3,"t":400,"v":99.8}
    ]
  },
  "vconcat": [
    {
      "spacing": 0,
      "bounds": "flush",
      "resolve": {"scale": {"x": "independent", "y": "independent", "shape": "independent", "fill": "independent", "stroke": "independent"}, "legend": {"shape": "independent", "fill": "independent", "stroke": "independent"}},
      "hconcat": [
        {
          "width": 483, "height": 361,
          "data": {"name": "la"},
          "layer": [
            {"mark": {"type": "line", "strokeWidth": 1},
             "encoding": {
               "x": {"field": "t", "type": "quantitative", "scale": {"domain": [100, 400], "nice": false, "zero": false}, "axis": {"title": null, "labels": false, "ticks": false}},
               "y": {"field": "v", "type": "quantitative", "scale": {"domain": [-2.9, 102.9], "nice": false, "zero": false}, "axis": {"title": null, "values": [0,10,20,30,40,50,60,70,80,90,100], "labelExpr": "datum.value % 20 == 0 ? datum.label : ''", "tickSize": {"condition": {"test": "datum.value % 20 == 0", "value": 6}, "value": 3}, "labelFlush": false, "labelOverlap": false, "labelPadding": 3}},
               "stroke": {"field": "r", "type": "nominal", "scale": {"range": ["black", "black", "black"]},
                 "legend": {"title": null, "orient": "none", "legendX": 15, "legendY": 15, "padding": 8, "symbolOffset": 9.5, "labelOffset": 16, "symbolType": "M-2.9,0H-0.7M0.7,0H2.9", "symbolStrokeWidth": 1, "labelColor": "transparent", "labelExpr": "'Run ' + datum.label + ' Run'"}}}},
            {"mark": {"type": "point", "filled": true, "opacity": 1, "size": 100, "stroke": "black", "strokeWidth": 1},
             "encoding": {
               "x": {"field": "t", "type": "quantitative"},
               "y": {"field": "v", "type": "quantitative"},
               "shape": {"field": "r", "type": "nominal", "scale": {"domain": [1, 2, 3], "range": ["M-0.85,-0.85H0.85V0.85H-0.85Z", "M0,-1L1,0.8H-1Z", "M0,-1L0.235,-0.324L0.951,-0.309L0.38,0.124L0.588,0.809L0,0.4L-0.588,0.809L-0.38,0.124L-0.951,-0.309L-0.235,-0.324Z"]},
                 "legend": {"title": null, "orient": "none", "legendX": 15, "legendY": 15, "padding": 8, "symbolOffset": 9.5, "labelOffset": 16, "strokeColor": "transparent", "labelExpr": "'Run ' + datum.label",
                   "encode": {"symbols": {"size": {"value": 169}, "stroke": {"value": "black"}, "strokeWidth": {"value": 1}}}}},
               "fill": {"field": "r", "type": "nominal", "scale": {"domain": [1, 2, 3], "range": ["black", "white", "black"]},
                 "legend": {"title": null, "orient": "none", "legendX": 15, "legendY": 15, "padding": 8, "symbolOffset": 9.5, "labelOffset": 16, "strokeColor": "transparent", "labelExpr": "'Run ' + datum.label",
                   "encode": {"symbols": {"size": {"value": 169}, "stroke": {"value": "black"}, "strokeWidth": {"value": 1}}}}}}},
            {"mark": {"type": "text", "text": "LaMnO", "fontSize": 20, "align": "left", "baseline": "alphabetic", "color": "black"},
             "encoding": {"x": {"datum": 275.8}, "y": {"datum": 94.6}}},
            {"mark": {"type": "text", "text": "3", "fontSize": 14, "align": "left", "baseline": "alphabetic", "color": "black"},
             "encoding": {"x": {"datum": 320.5}, "y": {"datum": 92.9}}}
          ]
        },
        {
          "width": 483, "height": 361,
          "data": {"name": "mn"},
          "layer": [
            {"mark": {"type": "line", "strokeWidth": 1},
             "encoding": {
               "x": {"field": "t", "type": "quantitative", "scale": {"domain": [100, 400], "nice": false, "zero": false}, "axis": {"title": null, "labels": false, "ticks": false}},
               "y": {"field": "v", "type": "quantitative", "scale": {"domain": [-2.9, 102.9], "nice": false, "zero": false}, "axis": {"title": null, "values": [0,10,20,30,40,50,60,70,80,90,100], "labels": false, "tickSize": {"condition": {"test": "datum.value % 20 == 0", "value": -5}, "value": -3}}},
               "stroke": {"field": "r", "type": "nominal", "scale": {"range": ["#008000", "#008000", "#008000"]},
                 "legend": {"title": null, "orient": "none", "legendX": 12, "legendY": 8, "padding": 3, "symbolOffset": 11.5, "labelOffset": 16, "symbolType": "M-2.9,0H-0.7M0.7,0H2.9", "symbolStrokeWidth": 1, "labelColor": "transparent", "labelExpr": "'Run ' + datum.label"}}}},
            {"mark": {"type": "point", "filled": true, "opacity": 1, "size": 100, "stroke": "#008000", "strokeWidth": 1},
             "encoding": {
               "x": {"field": "t", "type": "quantitative"},
               "y": {"field": "v", "type": "quantitative"},
               "shape": {"field": "r", "type": "nominal", "scale": {"domain": [1, 2, 3], "range": ["M-0.85,-0.85H0.85V0.85H-0.85Z", "M0,-1L0.235,-0.324L0.951,-0.309L0.38,0.124L0.588,0.809L0,0.4L-0.588,0.809L-0.38,0.124L-0.951,-0.309L-0.235,-0.324Z", "M0,-1L1,0.8H-1Z"]},
                 "legend": {"title": null, "orient": "none", "legendX": 12, "legendY": 8, "padding": 3, "symbolOffset": 11.5, "labelOffset": 16, "strokeColor": "transparent", "labelExpr": "'Run ' + datum.label",
                   "encode": {"symbols": {"size": {"value": 169}, "stroke": {"value": "#008000"}, "strokeWidth": {"value": 1}}}}},
               "fill": {"field": "r", "type": "nominal", "scale": {"domain": [1, 2, 3], "range": ["#008000", "#008000", "white"]},
                 "legend": {"title": null, "orient": "none", "legendX": 12, "legendY": 8, "padding": 3, "symbolOffset": 11.5, "labelOffset": 16, "strokeColor": "transparent", "labelExpr": "'Run ' + datum.label",
                   "encode": {"symbols": {"size": {"value": 169}, "stroke": {"value": "#008000"}, "strokeWidth": {"value": 1}}}}}}},
            {"mark": {"type": "text", "text": "Mn", "fontSize": 20, "align": "left", "baseline": "alphabetic", "color": "#008000"},
             "encoding": {"x": {"datum": 208.7}, "y": {"datum": 91.2}}},
            {"mark": {"type": "text", "text": "2", "fontSize": 14, "align": "left", "baseline": "alphabetic", "color": "#008000"},
             "encoding": {"x": {"datum": 228.6}, "y": {"datum": 88.9}}},
            {"mark": {"type": "text", "text": "O", "fontSize": 20, "align": "left", "baseline": "alphabetic", "color": "#008000"},
             "encoding": {"x": {"datum": 232.6}, "y": {"datum": 91.2}}},
            {"mark": {"type": "text", "text": "3", "fontSize": 14, "align": "left", "baseline": "alphabetic", "color": "#008000"},
             "encoding": {"x": {"datum": 242.5}, "y": {"datum": 88.9}}}
          ]
        }
      ]
    },
    {
      "spacing": 0,
      "bounds": "flush",
      "resolve": {"scale": {"x": "independent", "y": "independent", "shape": "independent", "fill": "independent", "stroke": "independent"}, "legend": {"shape": "independent", "fill": "independent", "stroke": "independent"}},
      "title": {"text": "T (°C)", "orient": "bottom", "anchor": "middle", "font": "Liberation Serif", "fontSize": 38, "fontWeight": "bold", "color": "black", "offset": 38, "dx": 35},
      "hconcat": [
        {
          "width": 483, "height": 361,
          "data": {"name": "oh"},
          "layer": [
            {"mark": {"type": "line", "strokeWidth": 1},
             "encoding": {
               "x": {"field": "t", "type": "quantitative", "scale": {"domain": [100, 400], "nice": false, "zero": false}, "axis": {"title": null, "values": [100,125,150,175,200,225,250,275,300,325,350,375,400], "labelExpr": "datum.value % 50 == 0 && datum.value < 400 ? datum.label : ''", "tickSize": {"condition": {"test": "datum.value % 50 == 0", "value": 6}, "value": 3}, "labelFlush": false, "labelOverlap": false, "labelPadding": 3}},
               "y": {"field": "v", "type": "quantitative", "scale": {"domain": [-3.5, 101.9], "nice": false, "zero": false}, "axis": {"title": null, "values": [0,10,20,30,40,50,60,70,80,90,100], "labelExpr": "datum.value % 20 == 0 ? datum.label : ''", "tickSize": {"condition": {"test": "datum.value % 20 == 0", "value": 6}, "value": 3}, "labelFlush": false, "labelOverlap": false, "labelPadding": 3}},
               "stroke": {"field": "r", "type": "nominal", "scale": {"range": ["#0000FF", "#0000FF", "#0000FF"]},
                 "legend": {"title": null, "orient": "none", "legendX": 11, "legendY": 2, "padding": 3, "symbolOffset": 11.5, "labelOffset": 16, "symbolType": "M-2.9,0H-0.7M0.7,0H2.9", "symbolStrokeWidth": 1, "labelColor": "transparent", "labelExpr": "'Run ' + datum.label"}}}},
            {"mark": {"type": "point", "filled": true, "opacity": 1, "size": 100, "stroke": "#0000FF", "strokeWidth": 1},
             "encoding": {
               "x": {"field": "t", "type": "quantitative"},
               "y": {"field": "v", "type": "quantitative"},
               "shape": {"field": "r", "type": "nominal", "scale": {"domain": [1, 2, 3], "range": ["M-0.85,-0.85H0.85V0.85H-0.85Z", "M0,-1L1,0.8H-1Z", "M0,-1L0.235,-0.324L0.951,-0.309L0.38,0.124L0.588,0.809L0,0.4L-0.588,0.809L-0.38,0.124L-0.951,-0.309L-0.235,-0.324Z"]},
                 "legend": {"title": null, "orient": "none", "legendX": 11, "legendY": 2, "padding": 3, "symbolOffset": 11.5, "labelOffset": 16, "strokeColor": "transparent", "labelExpr": "'Run ' + datum.label",
                   "encode": {"symbols": {"size": {"value": 169}, "stroke": {"value": "#0000FF"}, "strokeWidth": {"value": 1}}}}},
               "fill": {"field": "r", "type": "nominal", "scale": {"domain": [1, 2, 3], "range": ["#0000FF", "white", "#0000FF"]},
                 "legend": {"title": null, "orient": "none", "legendX": 11, "legendY": 2, "padding": 3, "symbolOffset": 11.5, "labelOffset": 16, "strokeColor": "transparent", "labelExpr": "'Run ' + datum.label",
                   "encode": {"symbols": {"size": {"value": 169}, "stroke": {"value": "#0000FF"}, "strokeWidth": {"value": 1}}}}}}},
            {"mark": {"type": "text", "text": "OMS", "fontSize": 20, "align": "left", "baseline": "alphabetic", "color": "#0000FF"},
             "encoding": {"x": {"datum": 230.2}, "y": {"datum": 93.1}}},
            {"mark": {"type": "text", "text": "h", "fontSize": 14, "align": "left", "baseline": "alphabetic", "color": "#0000FF"},
             "encoding": {"x": {"datum": 259.3}, "y": {"datum": 90.6}}}
          ]
        },
        {
          "width": 483, "height": 361,
          "data": {"name": "os"},
          "layer": [
            {"mark": {"type": "line", "strokeWidth": 1},
             "encoding": {
               "x": {"field": "t", "type": "quantitative", "scale": {"domain": [100, 400], "nice": false, "zero": false}, "axis": {"title": null, "values": [100,125,150,175,200,225,250,275,300,325,350,375,400], "labelExpr": "datum.value % 50 == 0 ? datum.label : ''", "tickSize": {"condition": {"test": "datum.value % 50 == 0", "value": 6}, "value": 3}, "labelFlush": false, "labelOverlap": false, "labelPadding": 3}},
               "y": {"field": "v", "type": "quantitative", "scale": {"domain": [-3.5, 101.9], "nice": false, "zero": false}, "axis": {"title": null, "values": [0,10,20,30,40,50,60,70,80,90,100], "labels": false, "tickSize": {"condition": {"test": "datum.value % 20 == 0", "value": -5}, "value": -3}}},
               "stroke": {"field": "r", "type": "nominal", "scale": {"range": ["#FF0000", "#FF0000", "#FF0000"]},
                 "legend": {"title": null, "orient": "none", "legendX": 12, "legendY": 1, "padding": 3, "symbolOffset": 11.5, "labelOffset": 16, "symbolType": "M-2.9,0H-0.7M0.7,0H2.9", "symbolStrokeWidth": 1, "labelColor": "transparent", "labelExpr": "'Run ' + datum.label"}}}},
            {"mark": {"type": "point", "filled": true, "opacity": 1, "size": 100, "stroke": "#FF0000", "strokeWidth": 1},
             "encoding": {
               "x": {"field": "t", "type": "quantitative"},
               "y": {"field": "v", "type": "quantitative"},
               "shape": {"field": "r", "type": "nominal", "scale": {"domain": [1, 2, 3], "range": ["M-0.85,-0.85H0.85V0.85H-0.85Z", "M0,-1L1,0.8H-1Z", "M0,-1L0.235,-0.324L0.951,-0.309L0.38,0.124L0.588,0.809L0,0.4L-0.588,0.809L-0.38,0.124L-0.951,-0.309L-0.235,-0.324Z"]},
                 "legend": {"title": null, "orient": "none", "legendX": 12, "legendY": 1, "padding": 3, "symbolOffset": 11.5, "labelOffset": 16, "strokeColor": "transparent", "labelExpr": "'Run ' + datum.label",
                   "encode": {"symbols": {"size": {"value": 169}, "stroke": {"value": "#FF0000"}, "strokeWidth": {"value": 1}}}}},
               "fill": {"field": "r", "type": "nominal", "scale": {"domain": [1, 2, 3], "range": ["#FF0000", "white", "#FF0000"]},
                 "legend": {"title": null, "orient": "none", "legendX": 12, "legendY": 1, "padding": 3, "symbolOffset": 11.5, "labelOffset": 16, "strokeColor": "transparent", "labelExpr": "'Run ' + datum.label",
                   "encode": {"symbols": {"size": {"value": 169}, "stroke": {"value": "#FF0000"}, "strokeWidth": {"value": 1}}}}}}},
            {"mark": {"type": "text", "text": "OMS", "fontSize": 20, "align": "left", "baseline": "alphabetic", "color": "#FF0000"},
             "encoding": {"x": {"datum": 209.3}, "y": {"datum": 92.9}}},
            {"mark": {"type": "text", "text": "S", "fontSize": 14, "align": "left", "baseline": "alphabetic", "color": "#FF0000"},
             "encoding": {"x": {"datum": 238.5}, "y": {"datum": 90.1}}}
          ]
        }
      ]
    }
  ]
}
